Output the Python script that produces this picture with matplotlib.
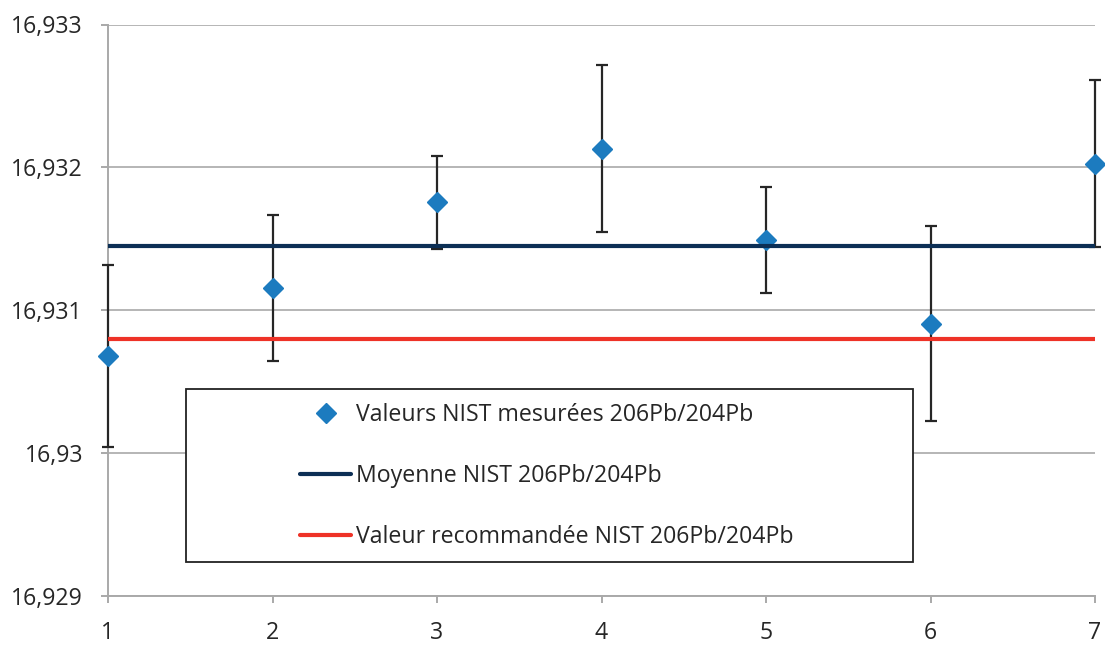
import matplotlib
matplotlib.use("Agg")
import matplotlib.pyplot as plt
from matplotlib.lines import Line2D
from matplotlib.patches import Rectangle

plt.rcParams['font.family'] = ['Open Sans', 'DejaVu Sans']

# ---- data ----
runs = [1, 2, 3, 4, 5, 6, 7]
measured = [16.93068, 16.931154, 16.931756, 16.932132, 16.931491, 16.930906, 16.932027]
errors = [0.000635, 0.00051, 0.000324, 0.000584, 0.000372, 0.000684, 0.000584]
mean_value = 16.93145
recommended_value = 16.9308
yticks = [16.929, 16.930, 16.931, 16.932, 16.933]
ytick_labels = ["16,929", "16,93", "16,931", "16,932", "16,933"]
xticks = [1, 2, 3, 4, 5, 6, 7]
labels = ["Valeurs NIST mesurées 206Pb/204Pb",
          "Moyenne NIST 206Pb/204Pb",
          "Valeur recommandée NIST 206Pb/204Pb"]

# ---- style ----
c_marker = "#1c7bbf"
c_mean = "#0c2f55"
c_red = "#ee3227"
c_grid = "#a9a9a9"
c_text = "#262626"
fs = 16.7

fig = plt.figure(figsize=(11.05, 6.46), dpi=100)
W, H = 1105, 646
left, right, top, bottom = 108, 1095, 24.5, 596
ax = fig.add_axes([left / W, 1 - bottom / H, (right - left) / W, (bottom - top) / H])

ax.set_xlim(1, 7)
ax.set_ylim(16.929, 16.933)
ax.set_yticks(yticks)
ax.set_yticklabels(ytick_labels)
ax.set_xticks(xticks)
ax.set_xticklabels([str(x) for x in xticks])

ax.grid(axis='y', color=c_grid, lw=1.2, zorder=0)
ax.set_axisbelow(True)
for s in ['top', 'right']:
    ax.spines[s].set_visible(False)
for s in ['left', 'bottom']:
    ax.spines[s].set_color(c_grid)
    ax.spines[s].set_linewidth(1.4)
ax.tick_params(axis='both', colors=c_grid, labelcolor=c_text, labelsize=fs,
               length=5, width=1.4, direction='out')
ax.tick_params(axis='y', pad=13)
ax.tick_params(axis='x', pad=13)

ax.errorbar(runs, measured, yerr=errors, fmt='none', ecolor=c_text,
            elinewidth=1.6, capsize=4.5, capthick=1.6, zorder=3, clip_on=False)
ax.plot(runs, measured, linestyle='none', marker='D', ms=10.5, color=c_marker,
        mec=c_marker, zorder=3.5, clip_on=False)
ax.plot([runs[0], runs[-1]], [mean_value, mean_value], color=c_mean, lw=3, zorder=4,
        solid_capstyle='butt')
ax.plot([runs[0], runs[-1]], [recommended_value, recommended_value], color=c_red, lw=3,
        zorder=4, solid_capstyle='butt')

# legend frame
def ax_x(px):
    return (px - left) / (right - left)

def ax_y(py):
    return (bottom - py) / (bottom - top)

box = Rectangle((ax_x(186), ax_y(562)), ax_x(913) - ax_x(186), ax_y(389) - ax_y(562),
                transform=ax.transAxes, facecolor='white', edgecolor='#222222',
                lw=1.3, zorder=5)
ax.add_patch(box)

handles = [
    Line2D([], [], linestyle='none', marker='D', ms=10.5, color=c_marker),
    Line2D([], [], color=c_mean, lw=3, solid_capstyle='round'),
    Line2D([], [], color=c_red, lw=3, solid_capstyle='round'),
]
leg = ax.legend(handles, labels, loc='center left',
                bbox_to_anchor=(ax_x(300), ax_y(476)), bbox_transform=ax.transAxes,
                frameon=False, fontsize=fs, borderpad=0, borderaxespad=0,
                handlelength=2.2, handletextpad=0.2, labelspacing=1.6)
leg.set_zorder(6)
for t in leg.get_texts():
    t.set_color(c_text)

fig.savefig("out.png", dpi=100)
